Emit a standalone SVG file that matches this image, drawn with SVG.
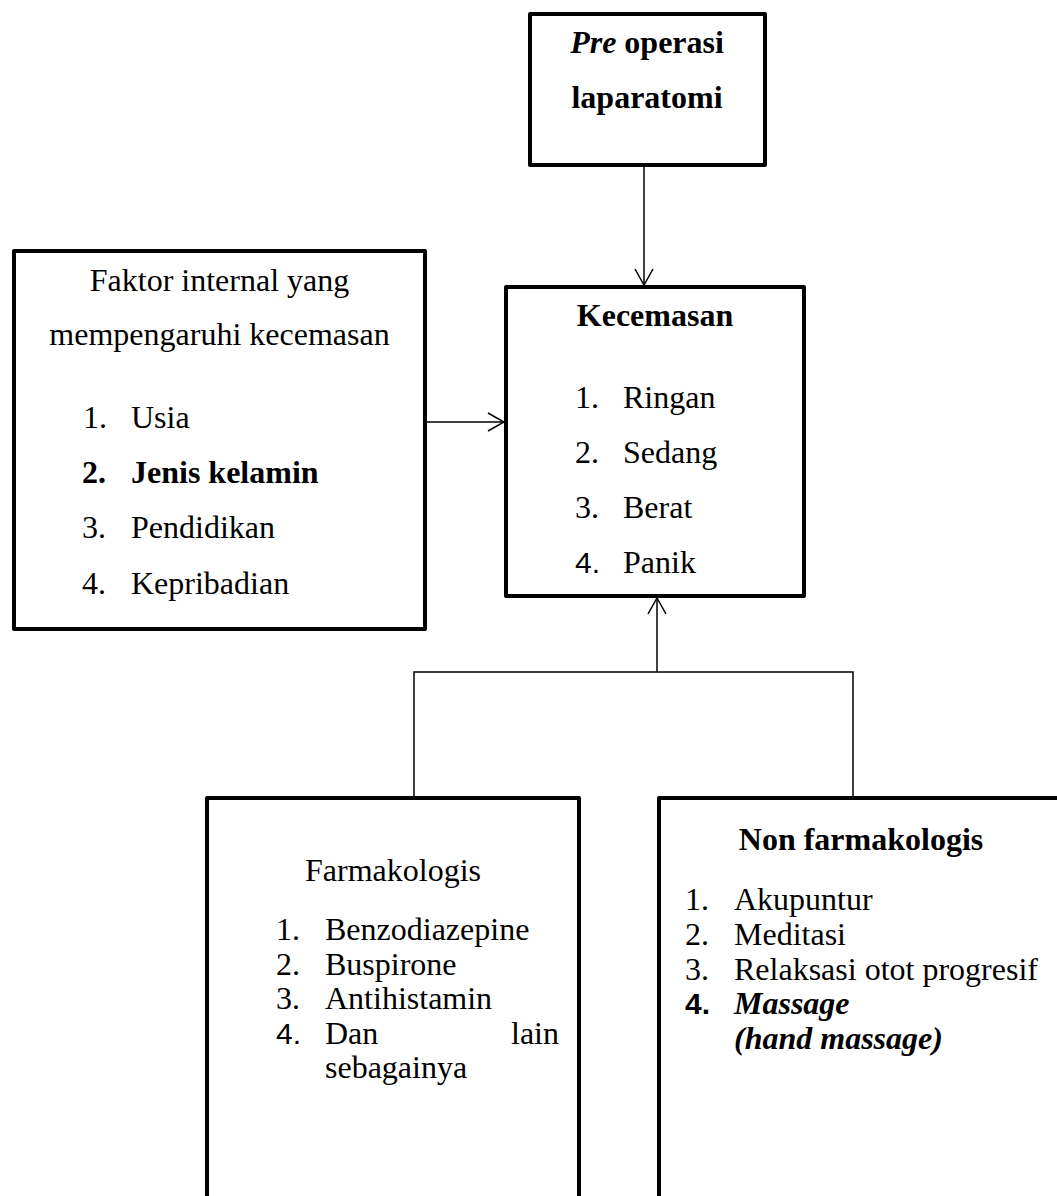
<svg xmlns="http://www.w3.org/2000/svg" width="1057" height="1196" viewBox="0 0 1057 1196">
<style>
.box{fill:#fff;stroke:#000;stroke-width:4;stroke-linejoin:round}
.con{fill:none;stroke:#000;stroke-width:1.5}
text{font-family:"Liberation Serif","Times New Roman",serif;font-size:32px;fill:#000}
.b{font-weight:bold}
.i{font-style:italic}
.m{text-anchor:middle}
.sans{font-family:"Liberation Sans",Arial,sans-serif;font-size:30px}
</style>
<defs>
<marker id="arr" viewBox="0 0 18 20" markerWidth="18" markerHeight="20" refX="17" refY="10" orient="auto" markerUnits="userSpaceOnUse">
<path d="M1,1 L17,10 L1,19" fill="none" stroke="#000" stroke-width="1.5"/>
</marker>
</defs>
<rect width="1057" height="1196" fill="#fff"/>
<g id="connectors">
<line class="con" x1="644" y1="167" x2="644" y2="285" marker-end="url(#arr)"/>
<line class="con" x1="427" y1="422" x2="504" y2="422" marker-end="url(#arr)"/>
<polyline class="con" points="414,797 414,672 853,672 853,797"/>
<line class="con" x1="657" y1="672" x2="657" y2="598" marker-end="url(#arr)"/>
</g>
<g id="pre-operasi">
<rect class="box" x="530" y="14" width="235" height="151"/>
<text class="m b" x="647" y="53"><tspan class="i">Pre</tspan> operasi</text>
<text class="m b" x="647" y="108">laparatomi</text>
</g>
<g id="faktor-internal">
<rect class="box" x="14" y="251" width="411" height="378"/>
<text class="m" x="219.5" y="291">Faktor internal yang</text>
<text class="m" x="219.5" y="345">mempengaruhi kecemasan</text>
<text x="83" y="428">1.</text><text x="131" y="428">Usia</text>
<text class="b" x="82" y="483">2.</text><text class="b" x="131" y="483">Jenis kelamin</text>
<text x="82" y="538">3.</text><text x="131" y="538">Pendidikan</text>
<text x="82" y="594">4.</text><text x="131" y="594">Kepribadian</text>
</g>
<g id="kecemasan">
<rect class="box" x="506" y="287" width="298" height="309"/>
<text class="m b" x="655" y="326">Kecemasan</text>
<text x="575" y="408">1.</text><text x="623" y="408">Ringan</text>
<text x="575" y="463">2.</text><text x="623" y="463">Sedang</text>
<text x="575" y="518">3.</text><text x="623" y="518">Berat</text>
<text class="sans" x="575" y="573">4.</text><text x="623" y="573">Panik</text>
</g>
<g id="farmakologis">
<rect class="box" x="207" y="798" width="372" height="420"/>
<text class="m" x="393" y="881">Farmakologis</text>
<text x="276" y="940">1.</text><text x="325" y="940">Benzodiazepine</text>
<text x="276" y="975">2.</text><text x="325" y="975">Buspirone</text>
<text x="276" y="1009">3.</text><text x="325" y="1009">Antihistamin</text>
<text class="sans" x="276" y="1044">4.</text><text x="325" y="1044">Dan</text><text x="559" y="1044" text-anchor="end">lain</text>
<text x="325" y="1078">sebagainya</text>
</g>
<g id="non-farmakologis">
<rect class="box" x="659" y="798" width="420" height="400"/>
<text class="m b" x="861" y="850">Non farmakologis</text>
<text x="685" y="910">1.</text><text x="734" y="910">Akupuntur</text>
<text x="685" y="945">2.</text><text x="734" y="945">Meditasi</text>
<text x="685" y="980">3.</text><text x="734" y="980">Relaksasi otot progresif</text>
<text class="sans b" x="685" y="1014">4.</text><text class="b i" x="734" y="1014">Massage</text>
<text class="b i" x="734" y="1049">(hand massage)</text>
</g>
</svg>
